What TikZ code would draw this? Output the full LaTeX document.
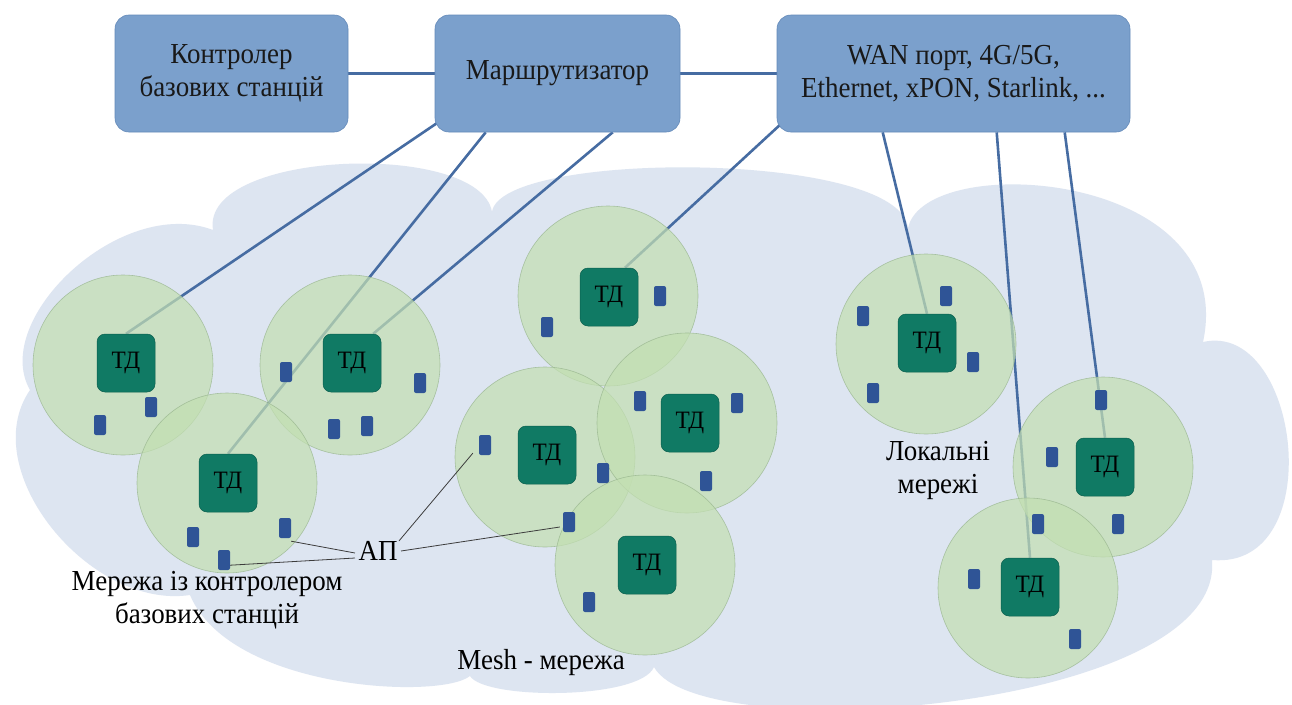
\documentclass[tikz,border=0pt]{standalone}
\usepackage{fontspec}
\setmainfont{Liberation Serif}[FakeStretch=0.93]

\definecolor{cloudfill}{RGB}{221,229,241}
\definecolor{hubfill}{RGB}{123,160,204}
\definecolor{hubedge}{RGB}{100,138,185}
\definecolor{zonefill}{RGB}{195,223,178}
\definecolor{zoneedge}{RGB}{150,180,140}
\definecolor{tdfill}{RGB}{16,122,100}
\definecolor{tdedge}{RGB}{12,95,78}
\definecolor{apfill}{RGB}{47,84,150}
\definecolor{linkblue}{RGB}{70,108,162}
\definecolor{pointergray}{RGB}{60,60,60}

\pgfdeclarelayer{cloudlayer}
\pgfdeclarelayer{wirelayer}
\pgfdeclarelayer{zonelayer}
\pgfsetlayers{cloudlayer,wirelayer,zonelayer,main}

\begin{document}
\begin{tikzpicture}[x=1pt,y=-1pt,
  every node/.style={font=\fontsize{29}{33}\selectfont},
  hub/.style={draw=hubedge, fill=hubfill, rounded corners=14pt, minimum height=117pt,
    align=center, inner sep=0pt, line width=0.6pt, text=black!90},
  zone/.style={circle, fill=zonefill, draw=zoneedge, line width=0.6pt, opacity=0.72,
    minimum size=180pt, inner sep=0pt},
  td/.style={fill=tdfill, draw=tdedge, line width=0.5pt, rounded corners=8pt,
    minimum size=58pt, inner sep=0pt, font=\fontsize{25}{27}\selectfont},
  ap/.style={fill=apfill, rounded corners=2pt, minimum width=12pt, minimum height=20pt, inner sep=0pt},
  uplink/.style={draw=linkblue, line width=2.6pt},
  pointer/.style={draw=pointergray, line width=0.8pt},
  caption/.style={align=center, text=black},
]
\useasboundingbox (0,0) rectangle (1292,704);

% page and cloud outline
\begin{pgfonlayer}{cloudlayer}
\fill[white] (0,0) rectangle (1292,704);
\fill[cloudfill] (30,390) .. controls (-10,320) and (120,195) .. (213,230)
  .. controls (200,150) and (480,140) .. (492,212)
  .. controls (500,150) and (900,150) .. (908,228)
  .. controls (925,150) and (1240,170) .. (1203,342)
  .. controls (1300,320) and (1330,570) .. (1212,560)
  .. controls (1225,710) and (700,750) .. (654,667)
  .. controls (640,700) and (485,700) .. (470,676)
  .. controls (440,700) and (230,690) .. (190,595)
  .. controls (90,610) and (-25,470) .. (30,390) -- cycle;
\end{pgfonlayer}

% coverage zones
\begin{pgfonlayer}{zonelayer}
\node[zone] (z1) at (123,365) {};
\node[zone] (z3) at (350,365) {};
\node[zone] (z2) at (227,483) {};
\node[zone] (m1) at (608,296) {};
\node[zone] (m2) at (545,457) {};
\node[zone] (m3) at (687,423) {};
\node[zone] (m4) at (645,565) {};
\node[zone] (l1) at (926,344) {};
\node[zone] (l2) at (1103,467) {};
\node[zone] (l3) at (1028,588) {};
\end{pgfonlayer}

% top row
\node[hub, minimum width=233pt] (ctrl) at (231.5,73.5) {Контролер\\базових станцій};
\node[hub, minimum width=245pt] (router) at (557.5,73.5) {Маршрутизатор};
\node[hub, minimum width=353pt] (wan) at (953.5,73.5) {WAN порт, 4G/5G,\\Ethernet, xPON, Starlink, ...};

% access points
\node[td] (td1) at (126,363) {ТД};
\node[td] (td3) at (352,363) {ТД};
\node[td] (td2) at (228,483) {ТД};
\node[td] (tdm1) at (609,297) {ТД};
\node[td] (tdm2) at (547,455) {ТД};
\node[td] (tdm3) at (690,423) {ТД};
\node[td] (tdm4) at (647,565) {ТД};
\node[td] (tdl1) at (927,343) {ТД};
\node[td] (tdl2) at (1105,467) {ТД};
\node[td] (tdl3) at (1030,587) {ТД};

% client devices
\node[ap] (ap1) at (151,407) {};
\node[ap] (ap2) at (100,425) {};
\node[ap] (ap3) at (193,537) {};
\node[ap] (ap4) at (224,560) {};
\node[ap] (ap5) at (285,528) {};
\node[ap] (ap6) at (286,372) {};
\node[ap] (ap7) at (420,383) {};
\node[ap] (ap8) at (334,429) {};
\node[ap] (ap9) at (367,426) {};
\node[ap] (ap10) at (660,296) {};
\node[ap] (ap11) at (547,327) {};
\node[ap] (ap12) at (640,401) {};
\node[ap] (ap13) at (737,403) {};
\node[ap] (ap14) at (706,481) {};
\node[ap] (ap15) at (485,445) {};
\node[ap] (ap16) at (603,473) {};
\node[ap] (ap17) at (569,522) {};
\node[ap] (ap18) at (589,602) {};
\node[ap] (ap19) at (946,296) {};
\node[ap] (ap20) at (863,316) {};
\node[ap] (ap21) at (973,362) {};
\node[ap] (ap22) at (873,393) {};
\node[ap] (ap23) at (1101,400) {};
\node[ap] (ap24) at (1052,457) {};
\node[ap] (ap25) at (1118,524) {};
\node[ap] (ap26) at (1038,524) {};
\node[ap] (ap27) at (974,579) {};
\node[ap] (ap28) at (1075,639) {};

% uplinks
\begin{pgfonlayer}{wirelayer}
\draw[uplink] (ctrl) -- (router);
\draw[uplink] (router) -- (wan);
\draw[uplink] ([xshift=2pt,yshift=9pt]router.south west) -- (td1.north);
\draw[uplink] ([xshift=51pt]router.south west) -- (td2.north);
\draw[uplink] ([xshift=178pt]router.south west) -- ([xshift=-8pt]td3.north east);
\draw[uplink] ([xshift=5pt,yshift=9pt]wan.south west) -- ([xshift=16pt]tdm1.north);
\draw[uplink] ([xshift=106pt]wan.south west) -- (tdl1.north);
\draw[uplink] ([xshift=220pt]wan.south west) -- (tdl3.north);
\draw[uplink] ([xshift=288pt]wan.south west) -- (tdl2.north);
\end{pgfonlayer}

% captions
\node[caption] (aplabel) at (378,551) {АП};
\node[caption] (ctrlnet) at (207,600) {Мережа із контролером\\базових станцій};
\node[caption] (meshnet) at (541,663) {Mesh - мережа};
\node[caption] (localnet) at (938,470) {Локальні\\мережі};

% pointers from the АП label
\draw[pointer] ([yshift=-3pt]ap5.south east) -- ([yshift=-2pt]aplabel.west);
\draw[pointer] ([yshift=5pt]ap4.south east) -- ([yshift=-7pt]aplabel.west);
\draw[pointer] ([xshift=-2pt,yshift=-3pt]aplabel.north east) -- ([xshift=-6pt,yshift=2pt]ap15.south west);
\draw[pointer] (aplabel.east) -- ([xshift=-3pt,yshift=-5pt]ap17.west);
\end{tikzpicture}
\end{document}
